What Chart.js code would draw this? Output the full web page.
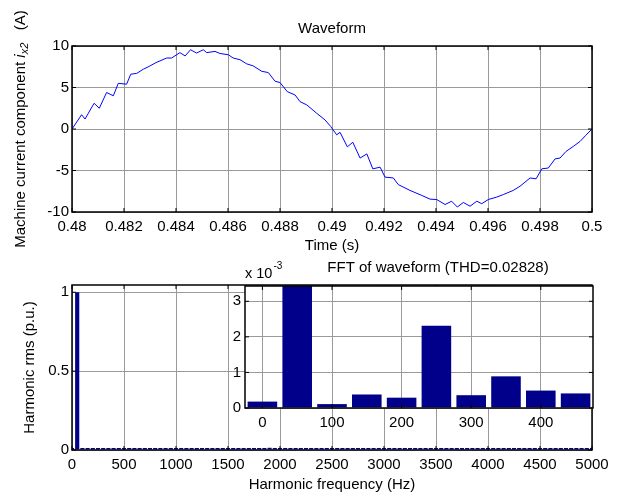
<!DOCTYPE html>
<html>
<head>
<meta charset="utf-8">
<script src="https://cdn.jsdelivr.net/npm/chart.js@4.4.1/dist/chart.umd.min.js"></script>
<style>
  html, body { margin: 0; padding: 0; background: #fff; }
  #wrap { position: relative; width: 618px; height: 495px; overflow: hidden; }
  canvas { position: absolute; }
</style>
</head>
<body>
<div id="wrap">
  <canvas id="waveChart" width="618" height="262" style="left:0;top:0"></canvas>
  <canvas id="fftChart" width="618" height="245" style="left:0;top:250px"></canvas>
  <canvas id="insetChart" width="418" height="190" style="left:200px;top:250px"></canvas>
</div>
<script>
// Waveform samples (s, A)
const timeValues = [
  0.48000, 0.48037, 0.48050, 0.48085, 0.48105, 0.48133, 0.48159, 0.48178, 0.48210, 0.48226,
  0.48249, 0.48274, 0.48297, 0.48323, 0.48364, 0.48383, 0.48415, 0.48435, 0.48456, 0.48479,
  0.48505, 0.48518, 0.48550, 0.48569, 0.48601, 0.48620, 0.48646, 0.48672, 0.48697, 0.48730,
  0.48755, 0.48781, 0.48800, 0.48828, 0.48858, 0.48877, 0.48903, 0.48941, 0.48973, 0.48995,
  0.49018, 0.49031, 0.49059, 0.49080, 0.49108, 0.49134, 0.49157, 0.49185, 0.49204, 0.49236,
  0.49255, 0.49300, 0.49345, 0.49377, 0.49403, 0.49435, 0.49460, 0.49482, 0.49505, 0.49531,
  0.49557, 0.49576, 0.49601, 0.49634, 0.49659, 0.49697, 0.49723, 0.49762, 0.49785, 0.49807,
  0.49832, 0.49858, 0.49877, 0.49900, 0.49928, 0.49954, 0.49975, 0.50000
];
const currentValues = [
  0, 1.72, 1.2, 3.1, 2.5, 4.4, 4.0, 5.5, 5.4, 6.6,
  6.7, 7.2, 7.55, 8.0, 8.55, 8.55, 9.2, 8.8, 9.55, 9.15,
  9.55, 9.2, 9.35, 9.1, 8.95, 8.55, 8.35, 7.85, 7.6, 6.95,
  6.8, 5.75, 5.6, 4.5, 4.1, 3.3, 2.9, 1.9, 1.1, 0.3,
  -0.7, -0.4, -2.15, -1.6, -3.5, -3.0, -4.8, -4.6, -5.8, -5.9,
  -6.7, -7.4, -8.0, -8.45, -8.5, -9.1, -8.7, -9.4, -8.85, -9.3,
  -8.7, -9.0, -8.5, -8.2, -7.9, -7.4, -6.9, -5.9, -6.0, -4.8,
  -4.7, -3.6, -3.5, -2.7, -2.1, -1.5, -0.8, 0
];
const timeTicks = [0.48, 0.482, 0.484, 0.486, 0.488, 0.49, 0.492, 0.494, 0.496, 0.498, 0.5];
const currentTicks = [-10, -5, 0, 5, 10];

// FFT: index = harmonic order, frequency = order * 50 Hz (p.u. of fundamental)
const fundamentalHz = 50;
const harmonicRms = [
  0.00018, 1.0, 0.00011, 0.00038, 0.00029, 0.00231, 0.00036, 0.00089, 0.00049, 0.00041,
  0.00030, 0.00052, 0.00021, 0.00045, 0.00018, 0.00033, 0.00025, 0.00040, 0.00019, 0.00035,
  0.00022, 0.00047, 0.00020, 0.00031, 0.00017, 0.00039, 0.00024, 0.00058, 0.00030, 0.00066,
  0.00041, 0.00084, 0.00052, 0.00120, 0.00150, 0.00260, 0.00600, 0.00800, 0.01400, 0.01200,
  0.00250, 0.00300, 0.01100, 0.01000, 0.00900, 0.00210, 0.00140, 0.00095, 0.00070, 0.00048,
  0.00036, 0.00031, 0.00027, 0.00035, 0.00022, 0.00029, 0.00019, 0.00026, 0.00033, 0.00021,
  0.00028, 0.00018, 0.00025, 0.00030, 0.00017, 0.00024, 0.00020, 0.00027, 0.00016, 0.00023,
  0.00019, 0.00026, 0.00015, 0.00022, 0.00018, 0.00024, 0.00016, 0.00021, 0.00014, 0.00020,
  0.00017, 0.00023, 0.00015, 0.00019, 0.00013, 0.00018, 0.00016, 0.00021, 0.00014, 0.00017,
  0.00012, 0.00016, 0.00015, 0.00019, 0.00013, 0.00016, 0.00012, 0.00015, 0.00014, 0.00017,
  0.00013
];
const fftFreqTicks = [0, 500, 1000, 1500, 2000, 2500, 3000, 3500, 4000, 4500, 5000];
const fftRmsTicks = [0, 0.5, 1];
const insetHarmonics = 10; // orders 0..9 in the zoomed inset
const insetFreqTicks = [0, 100, 200, 300, 400];
const insetRmsTicks = [0, 1, 2, 3];

const FONT = "'Liberation Sans', Arial, sans-serif";
const NAVY = '#00008b';
Chart.defaults.font.family = FONT;
Chart.defaults.font.size = 15;
Chart.defaults.color = '#000';

const gridStyle = { color: '#9a9a9a', lineWidth: 1, drawTicks: false, offset: false };
const fixedTicks = list => scale => { scale.ticks = list.map(v => ({ value: v })); };
const plainLabel = v => String(v);

// MATLAB-like box: black frame with inward tick marks on all four sides
const matlabFrame = {
  id: 'matlabFrame',
  beforeDraw(chart, args, opts) {
    if (!opts.fill) return;
    const { ctx, chartArea: a } = chart;
    ctx.save();
    ctx.fillStyle = opts.fill;
    ctx.fillRect(a.left, a.top, a.right - a.left, a.bottom - a.top);
    ctx.restore();
  },
  afterDraw(chart) {
    const { ctx, chartArea: a, scales: { x, y } } = chart;
    ctx.save();
    ctx.strokeStyle = '#000';
    ctx.lineWidth = 1;
    ctx.beginPath();
    x.ticks.forEach(t => {
      const px = x.getPixelForValue(t.value);
      ctx.moveTo(px, a.bottom); ctx.lineTo(px, a.bottom - 4);
      ctx.moveTo(px, a.top); ctx.lineTo(px, a.top + 4);
    });
    y.ticks.forEach(t => {
      const py = y.getPixelForValue(t.value);
      ctx.moveTo(a.left, py); ctx.lineTo(a.left + 4, py);
      ctx.moveTo(a.right, py); ctx.lineTo(a.right - 4, py);
    });
    ctx.stroke();
    ctx.lineWidth = 1.5;
    ctx.strokeRect(a.left, a.top, a.right - a.left, a.bottom - a.top);
    ctx.restore();
  }
};

const waveLabels = {
  id: 'waveLabels',
  afterDraw(chart) {
    const { ctx, chartArea: a } = chart;
    ctx.save();
    ctx.fillStyle = '#000';
    ctx.font = `15px ${FONT}`;
    ctx.textAlign = 'center';
    ctx.textBaseline = 'middle';
    ctx.fillText('Waveform', (a.left + a.right) / 2, a.top - 17);

    // y title with italic i and subscript x2
    const parts = [
      { text: 'Machine current component ', font: `15px ${FONT}`, dy: 0 },
      { text: 'i', font: `italic 15px ${FONT}`, dy: 0 },
      { text: 'x2', font: `italic 11px ${FONT}`, dy: 4 },
      { text: '   (A)', font: `15px ${FONT}`, dy: 0 }
    ];
    let total = 0;
    parts.forEach(p => { ctx.font = p.font; p.w = ctx.measureText(p.text).width; total += p.w; });
    ctx.translate(21, (a.top + a.bottom) / 2);
    ctx.rotate(-Math.PI / 2);
    ctx.textAlign = 'left';
    let cx = -total / 2;
    parts.forEach(p => { ctx.font = p.font; ctx.fillText(p.text, cx, p.dy); cx += p.w; });
    ctx.restore();
  }
};

const insetLabels = {
  id: 'insetLabels',
  afterDraw(chart) {
    const { ctx, chartArea: a } = chart;
    ctx.save();
    ctx.fillStyle = '#000';
    ctx.textBaseline = 'middle';
    ctx.textAlign = 'center';
    ctx.font = `15px ${FONT}`;
    ctx.fillText('FFT of waveform (THD=0.02828)', (a.left + a.right) / 2 + 19, a.top - 18);
    ctx.textAlign = 'left';
    ctx.textBaseline = 'alphabetic';
    ctx.font = `14.5px ${FONT}`;
    ctx.fillText('x 10', a.left, a.top - 8);
    const w = ctx.measureText('x 10').width;
    ctx.font = `10px ${FONT}`;
    ctx.fillText('-3', a.left + w + 1, a.top - 17);
    ctx.restore();
  }
};

const baseOptions = {
  responsive: false,
  animation: false,
  devicePixelRatio: 1,
  events: []
};

new Chart(document.getElementById('waveChart'), {
  type: 'line',
  data: {
    datasets: [{
      data: timeValues.map((t, i) => ({ x: t, y: currentValues[i] })),
      borderColor: '#0000ff',
      borderWidth: 1,
      pointRadius: 0,
      tension: 0
    }]
  },
  options: {
    ...baseOptions,
    layout: { padding: { top: 46, right: 26, left: 0, bottom: 0 } },
    plugins: { legend: { display: false }, tooltip: { enabled: false }, matlabFrame: {} },
    scales: {
      x: {
        type: 'linear', min: 0.48, max: 0.5,
        afterBuildTicks: fixedTicks(timeTicks),
        afterFit: s => { s.height = 50; },
        grid: gridStyle, border: { display: false },
        ticks: { padding: 6, maxRotation: 0, autoSkip: false, callback: plainLabel },
        title: { display: true, text: 'Time (s)', padding: { top: 0, bottom: 7 } }
      },
      y: {
        min: -10, max: 10,
        afterBuildTicks: fixedTicks(currentTicks),
        afterFit: s => { s.width = 72; },
        grid: gridStyle, border: { display: false },
        ticks: { padding: 3, callback: plainLabel }
      }
    }
  },
  plugins: [matlabFrame, waveLabels]
});

new Chart(document.getElementById('fftChart'), {
  type: 'bar',
  data: {
    datasets: [{
      data: harmonicRms.map((v, n) => ({ x: n * fundamentalHz, y: v })),
      backgroundColor: NAVY,
      borderWidth: 0,
      barPercentage: 0.8,
      categoryPercentage: 1,
      minBarLength: 2
    }]
  },
  options: {
    ...baseOptions,
    layout: { padding: { top: 35, right: 26, left: 0, bottom: 0 } },
    plugins: { legend: { display: false }, tooltip: { enabled: false }, matlabFrame: {} },
    scales: {
      x: {
        type: 'linear', min: 0, max: 5000, offset: false,
        afterBuildTicks: fixedTicks(fftFreqTicks),
        afterFit: s => { s.height = 45; },
        grid: gridStyle, border: { display: false },
        ticks: { padding: 6, maxRotation: 0, autoSkip: false, callback: plainLabel },
        title: { display: true, text: 'Harmonic frequency (Hz)', padding: { top: 0, bottom: 1.6 } }
      },
      y: {
        min: 0, max: 1.046,
        afterBuildTicks: fixedTicks(fftRmsTicks),
        afterFit: s => { s.width = 72; },
        grid: gridStyle, border: { display: false },
        ticks: { padding: 3, callback: plainLabel },
        title: { display: true, text: 'Harmonic rms (p.u.)', padding: { top: 21, bottom: 0 } }
      }
    }
  },
  plugins: [matlabFrame]
});

new Chart(document.getElementById('insetChart'), {
  type: 'bar',
  data: {
    datasets: [{
      data: harmonicRms.slice(0, insetHarmonics).map((v, n) => ({ x: n * fundamentalHz, y: v * 1000 })),
      backgroundColor: NAVY,
      borderWidth: 0,
      barPercentage: 0.85,
      categoryPercentage: 1
    }]
  },
  options: {
    ...baseOptions,
    layout: { padding: { top: 36, right: 25, left: 0, bottom: 0 } },
    plugins: { legend: { display: false }, tooltip: { enabled: false }, matlabFrame: { fill: '#fff' } },
    scales: {
      x: {
        type: 'linear', min: -25, max: 475, offset: false,
        afterBuildTicks: fixedTicks(insetFreqTicks),
        afterFit: s => { s.height = 32; },
        grid: gridStyle, border: { display: false },
        ticks: { padding: 6, maxRotation: 0, autoSkip: false, callback: plainLabel }
      },
      y: {
        min: 0, max: 3.43,
        afterBuildTicks: fixedTicks(insetRmsTicks),
        afterFit: s => { s.width = 45; },
        grid: gridStyle, border: { display: false },
        ticks: { padding: 4, callback: plainLabel }
      }
    }
  },
  plugins: [matlabFrame, insetLabels]
});
</script>
</body>
</html>
